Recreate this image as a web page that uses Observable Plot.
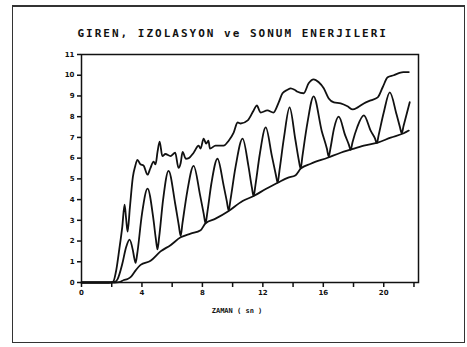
<!DOCTYPE html>
<html>
<head>
<meta charset="utf-8">
<script src="https://cdn.jsdelivr.net/npm/d3@7"></script>
<script src="https://cdn.jsdelivr.net/npm/@observablehq/plot@0.6"></script>
<style>
  html, body { margin: 0; padding: 0; background: #fff; }
  #wrap { position: relative; width: 467px; height: 347px; }
  #border { position: absolute; left: 12px; top: 5px; width: 451px; height: 335px; border: 1px solid #333; border-top-width: 2px; pointer-events: none; }
  svg { display: block; }
</style>
</head>
<body>
<div id="wrap"><div id="border"></div></div>
<script>
const title = "GIREN, IZOLASYON ve SONUM ENERJILERI";
const xTitle = "ZAMAN ( sn )";
const yTicks = [0, 1, 2, 3, 4, 5, 6, 7, 8, 9, 10, 11];
const xTicks = [0, 2, 4, 6, 8, 10, 12, 14, 16, 18, 20, 22];
const xLabelled = [0, 4, 8, 12, 16, 20];

// Giren (input) energy — top curve
const girenX = [0, 1.8, 2.1, 2.3, 2.5, 2.7, 2.85, 2.95, 3.05, 3.2, 3.4, 3.55, 3.7, 3.9, 4.1, 4.37, 4.55, 4.77, 4.9, 5.03, 5.17, 5.35, 5.55, 5.89, 6.2, 6.42, 6.56, 6.69, 6.9, 7.1, 7.42, 7.75, 7.88, 8.08, 8.25, 8.4, 8.5, 8.87, 9.4, 9.74, 10.07, 10.33, 10.53, 11.0, 11.39, 11.6, 11.85, 12.3, 12.7, 13.05, 13.3, 13.64, 13.84, 14.1, 14.3, 14.7, 15.03, 15.36, 15.7, 16.03, 16.36, 16.7, 17.15, 17.6, 17.95, 18.28, 18.68, 19.14, 19.6, 19.93, 20.26, 20.66, 21.0, 21.3, 21.66];
const girenY = [0, 0, 0.05, 0.6, 1.6, 2.7, 3.75, 3.1, 2.45, 3.6, 5.1, 5.6, 5.92, 5.7, 5.65, 5.2, 5.5, 5.83, 5.7, 6.3, 6.8, 6.1, 6.2, 6.1, 6.26, 5.53, 5.75, 6.3, 5.97, 6.0, 6.26, 6.6, 6.46, 6.94, 6.7, 6.84, 6.46, 6.6, 6.6, 6.84, 7.23, 7.72, 7.67, 7.82, 8.3, 8.54, 8.2, 8.3, 8.2, 8.69, 9.13, 9.3, 9.37, 9.3, 9.2, 9.13, 9.61, 9.8, 9.66, 9.37, 8.88, 8.69, 8.64, 8.5, 8.35, 8.45, 8.64, 8.79, 8.93, 9.42, 9.9, 10.0, 10.1, 10.15, 10.15];

// Izolasyon energy — oscillating curve
const izoX = [0, 1.8, 2.2, 2.38, 2.7, 2.95, 3.18, 3.4, 3.5, 3.58, 3.68, 4.0, 4.37, 4.75, 4.92, 5.03, 5.14, 5.4, 5.76, 6.2, 6.44, 6.56, 6.68, 7.0, 7.42, 7.85, 8.09, 8.21, 8.33, 8.6, 9.0, 9.4, 9.62, 9.74, 9.86, 10.2, 10.66, 11.05, 11.27, 11.39, 11.51, 11.8, 12.19, 12.6, 12.86, 12.98, 13.1, 13.4, 13.77, 14.15, 14.38, 14.5, 14.62, 14.95, 15.36, 15.9, 16.24, 16.36, 16.48, 16.7, 17.02, 17.45, 17.69, 17.81, 17.93, 18.25, 18.68, 19.15, 19.42, 19.54, 19.66, 20.0, 20.4, 20.85, 21.07, 21.19, 21.31, 21.72];
const izoY = [0, 0, 0.03, 0.15, 0.9, 1.7, 2.07, 1.55, 1.15, 0.95, 1.35, 3.3, 4.53, 3.1, 2.1, 1.6, 2.2, 4.0, 5.39, 3.8, 2.75, 2.25, 2.85, 4.4, 5.63, 4.2, 3.3, 2.86, 3.4, 4.8, 5.97, 4.7, 3.9, 3.47, 4.0, 5.6, 6.94, 5.6, 4.6, 4.17, 4.7, 6.2, 7.48, 6.1, 5.2, 4.81, 5.4, 7.0, 8.45, 6.9, 5.9, 5.49, 6.1, 7.7, 8.98, 7.3, 6.45, 6.08, 6.5, 7.4, 8.0, 7.1, 6.65, 6.4, 6.75, 7.5, 8.06, 7.3, 6.95, 6.72, 7.1, 8.2, 9.17, 8.1, 7.5, 7.2, 7.55, 8.7];

// Sonum (damping) energy — bottom curve
const sonumX = [0, 2.2, 2.5, 2.8, 3.05, 3.3, 3.6, 3.91, 4.57, 5.23, 5.89, 6.56, 7.22, 7.88, 8.21, 8.87, 9.74, 10.66, 11.39, 12.19, 12.98, 13.64, 14.17, 14.5, 15.17, 16.29, 17.15, 17.81, 18.68, 19.6, 20.46, 21.32, 21.66];
const sonumY = [0, 0, 0.02, 0.12, 0.17, 0.3, 0.6, 0.85, 1.05, 1.5, 1.8, 2.18, 2.36, 2.52, 2.86, 3.08, 3.45, 3.93, 4.17, 4.51, 4.81, 5.05, 5.18, 5.49, 5.73, 6.02, 6.26, 6.41, 6.6, 6.75, 6.99, 7.2, 7.33];

const toRows = (xs, ys) => xs.map((x, i) => ({x, y: ys[i]}));
const giren = toRows(girenX, girenY);
const izo = toRows(izoX, izoY);
const sonum = toRows(sonumX, sonumY);

const font = "'DejaVu Sans', sans-serif";
const lineOpts = {x: "x", y: "y", stroke: "#111", strokeWidth: 1.8, curve: "monotone-x", strokeLinejoin: "round"};

const chart = Plot.plot({
  width: 467,
  height: 347,
  marginLeft: 81,
  marginRight: 49,
  marginTop: 54,
  marginBottom: 65,
  style: {fontFamily: font, fontSize: "7px", fontWeight: "bold", color: "#111", background: "transparent", overflow: "visible"},
  x: {domain: [0, 22.3]},
  y: {domain: [0, 11]},
  marks: [
    Plot.frame({stroke: "#111", strokeWidth: 1.5}),
    Plot.axisY({ticks: yTicks, tickSize: 4, tickPadding: 3, label: null, stroke: "#111", strokeWidth: 1.5, fontWeight: "bold"}),
    Plot.axisX({ticks: xTicks, tickSize: 5, tickPadding: 3, label: null, stroke: "#111", strokeWidth: 1.5, fontWeight: "bold",
      tickFormat: d => xLabelled.includes(d) ? String(d) : ""}),
    Plot.line(sonum, lineOpts),
    Plot.line(izo, lineOpts),
    Plot.line(giren, lineOpts),
    Plot.text([title], {frameAnchor: "top-left", dx: -4, dy: -21, textAnchor: "start", lineAnchor: "middle",
      fontFamily: "'DejaVu Sans Mono', monospace", fontSize: 11, fontWeight: "bold", fill: "#111",
      style: {letterSpacing: "2px"}}),
    Plot.text([xTitle], {frameAnchor: "bottom", dx: -13, dy: 28, lineAnchor: "middle",
      fontFamily: "'DejaVu Sans Mono', monospace", fontSize: 7, fontWeight: "bold", fill: "#111"})
  ]
});
const wrap = document.getElementById("wrap");
chart.style.position = "absolute";
chart.style.left = "0px";
chart.style.top = "0px";
wrap.appendChild(chart);
// apply letter spacing to title text
chart.querySelectorAll("text").forEach(t => { if (t.textContent === title) t.setAttribute("letter-spacing", "2px"); });
</script>
</body>
</html>
